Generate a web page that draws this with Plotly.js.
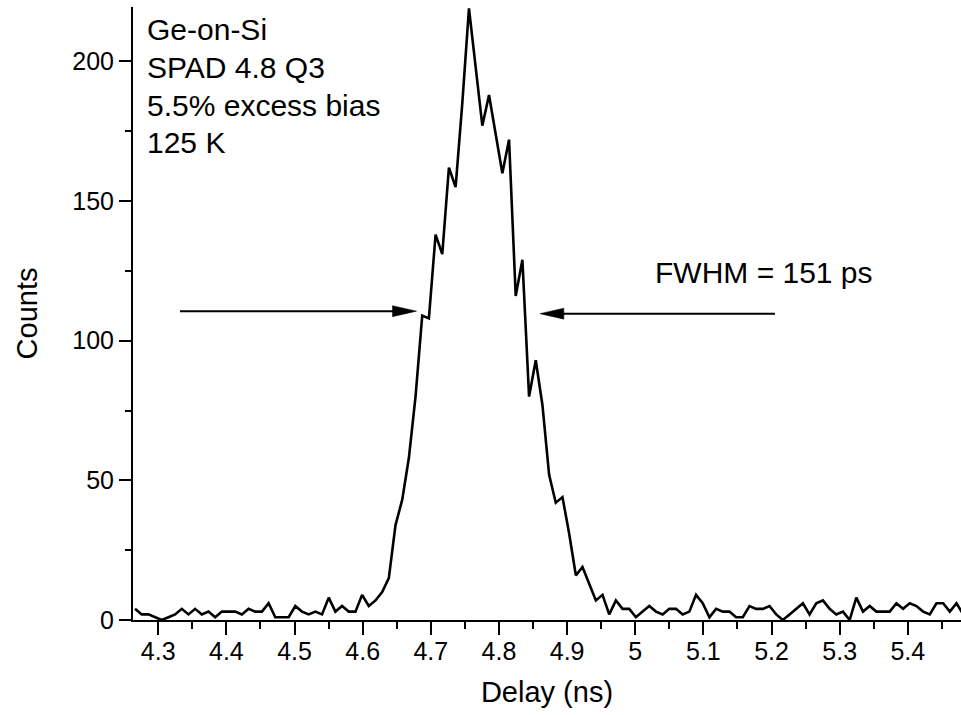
<!DOCTYPE html>
<html>
<head>
<meta charset="utf-8">
<script src="https://cdn.plot.ly/plotly-3.0.1.min.js"></script>
<style>html,body{margin:0;padding:0;background:#fff;}#chart{width:961px;height:715px;}</style>
</head>
<body>
<div id="chart"></div>
<script>
// Delay bins (ns)
const delayNs = [
  4.2660, 4.2758, 4.2856, 4.2954, 4.3052, 4.3150, 4.3248, 4.3346, 4.3444, 4.3542,
  4.3640, 4.3738, 4.3836, 4.3934, 4.4032, 4.4130, 4.4228, 4.4326, 4.4424, 4.4522,
  4.4620, 4.4718, 4.4816, 4.4914, 4.5012, 4.5110, 4.5208, 4.5306, 4.5404, 4.5502,
  4.5600, 4.5698, 4.5796, 4.5894, 4.5992, 4.6090, 4.6188, 4.6286, 4.6384, 4.6482,
  4.6580, 4.6678, 4.6776, 4.6874, 4.6972, 4.7070, 4.7168, 4.7266, 4.7364, 4.7462,
  4.7560, 4.7658, 4.7756, 4.7854, 4.7952, 4.8050, 4.8148, 4.8246, 4.8344, 4.8442,
  4.8540, 4.8638, 4.8736, 4.8834, 4.8932, 4.9030, 4.9128, 4.9226, 4.9324, 4.9422,
  4.9520, 4.9618, 4.9716, 4.9814, 4.9912, 5.0010, 5.0108, 5.0206, 5.0304, 5.0402,
  5.0500, 5.0598, 5.0696, 5.0794, 5.0892, 5.0990, 5.1088, 5.1186, 5.1284, 5.1382,
  5.1480, 5.1578, 5.1676, 5.1774, 5.1872, 5.1970, 5.2068, 5.2166, 5.2264, 5.2362,
  5.2460, 5.2558, 5.2656, 5.2754, 5.2852, 5.2950, 5.3048, 5.3146, 5.3244, 5.3342,
  5.3440, 5.3538, 5.3636, 5.3734, 5.3832, 5.3930, 5.4028, 5.4126, 5.4224, 5.4322,
  5.4420, 5.4518, 5.4616, 5.4714, 5.4812
];
// Photon counts per bin
const counts = [
  4, 2, 2, 1, 0, 1, 2, 4, 2, 4,
  2, 3, 1, 3, 3, 3, 2, 4, 3, 3,
  6, 1, 1, 1, 5, 3, 2, 3, 2, 8,
  3, 5, 3, 3, 9, 5, 7, 10, 15, 34,
  43, 58, 80, 109, 108, 138, 131, 162, 155, 185,
  219, 198, 177, 188, 174, 160, 172, 116, 129, 80,
  93, 77, 52, 42, 44, 31, 16, 19, 13, 7,
  9, 2, 7, 4, 4, 1, 3, 5, 3, 2,
  4, 4, 2, 3, 9, 6, 1, 4, 3, 3,
  1, 1, 5, 4, 4, 5, 2, 0, 2, 4,
  6, 2, 6, 7, 4, 2, 3, 0, 8, 3,
  5, 3, 3, 3, 6, 4, 6, 5, 3, 2,
  6, 6, 3, 6, 2
];
const xTickVals = [4.3, 4.4, 4.5, 4.6, 4.7, 4.8, 4.9, 5.0, 5.1, 5.2, 5.3, 5.4];
const xTickText = ["4.3", "4.4", "4.5", "4.6", "4.7", "4.8", "4.9", "5", "5.1", "5.2", "5.3", "5.4"];
const yTickVals = [0, 50, 100, 150, 200];
const yTickText = ["0", "50", "100", "150", "200"];
const infoLines = ["Ge-on-Si", "SPAD 4.8 Q3", "5.5% excess bias", "125 K"];
const fwhmLabel = "FWHM = 151 ps";
// FWHM arrows: [tail x, head x, y]
const leftArrow = [4.332, 4.679, 110.6];
const rightArrow = [5.205, 4.860, 109.7];

const FONT = "Liberation Sans, Arial, Helvetica, sans-serif";

const trace = {
  x: delayNs, y: counts, type: "scatter", mode: "lines",
  line: {color: "#000", width: 2.6},
  hoverinfo: "skip"
};

const annotations = [];
const infoY = [211.3, 197.7, 184.4, 171.1];
infoLines.forEach((t, i) => {
  annotations.push({
    x: 4.281, y: infoY[i], xref: "x", yref: "y", text: t, showarrow: false,
    xanchor: "left", yanchor: "middle", font: {family: FONT, size: 30, color: "#000"}
  });
});
annotations.push({
  x: 5.1885, y: 124.6, xref: "x", yref: "y", text: fwhmLabel, showarrow: false,
  xanchor: "center", yanchor: "middle", font: {family: FONT, size: 30, color: "#000"}
});

function arrowShapes(a) {
  const dir = a[1] > a[0] ? 1 : -1;
  return [
    {type: "line", xref: "x", yref: "y", x0: a[0], x1: a[1] - dir * 0.02, y0: a[2], y1: a[2],
     line: {color: "#000", width: 2}},
    {type: "path", xref: "x", yref: "y", xsizemode: "pixel", ysizemode: "pixel",
     xanchor: a[1], yanchor: a[2],
     path: dir > 0 ? "M0,0 L-24,5.5 L-24,-5.5 Z" : "M0,0 L24,5.5 L24,-5.5 Z",
     fillcolor: "#000", line: {color: "#000", width: 0.5}}
  ];
}
const shapes = arrowShapes(leftArrow).concat(arrowShapes(rightArrow));

const layout = {
  width: 961, height: 715,
  margin: {l: 133, r: 0, t: 7, b: 95, pad: 0},
  paper_bgcolor: "#fff", plot_bgcolor: "#fff",
  showlegend: false,
  font: {family: FONT, color: "#000"},
  xaxis: {
    range: [4.263, 5.478], showgrid: false, zeroline: false,
    showline: true, linecolor: "#000", linewidth: 2,
    ticks: "outside", ticklen: 13, tickwidth: 2, tickcolor: "#000",
    ticklabelstandoff: -5,
    tickmode: "array", tickvals: xTickVals, ticktext: xTickText,
    tickfont: {family: FONT, size: 25, color: "#000"},
    minor: {tickmode: "linear", tick0: 4.25, dtick: 0.1, ticks: "outside", ticklen: 7, tickwidth: 2, tickcolor: "#000", showgrid: false},
    title: {text: "Delay (ns)", font: {family: FONT, size: 29, color: "#000"}, standoff: 18}
  },
  yaxis: {
    range: [0, 219.5], showgrid: false, zeroline: false,
    showline: true, linecolor: "#000", linewidth: 2,
    ticks: "outside", ticklen: 12, tickwidth: 2, tickcolor: "#000",
    tickmode: "array", tickvals: yTickVals, ticktext: yTickText,
    tickfont: {family: FONT, size: 25, color: "#000"},
    minor: {tickmode: "linear", tick0: 25, dtick: 50, ticks: "outside", ticklen: 6, tickwidth: 2, tickcolor: "#000", showgrid: false},
    title: {text: "Counts", font: {family: FONT, size: 29, color: "#000"}, standoff: 26}
  },
  annotations: annotations,
  shapes: shapes
};

Plotly.newPlot("chart", [trace], layout, {staticPlot: true, displayModeBar: false});
</script>
</body>
</html>
